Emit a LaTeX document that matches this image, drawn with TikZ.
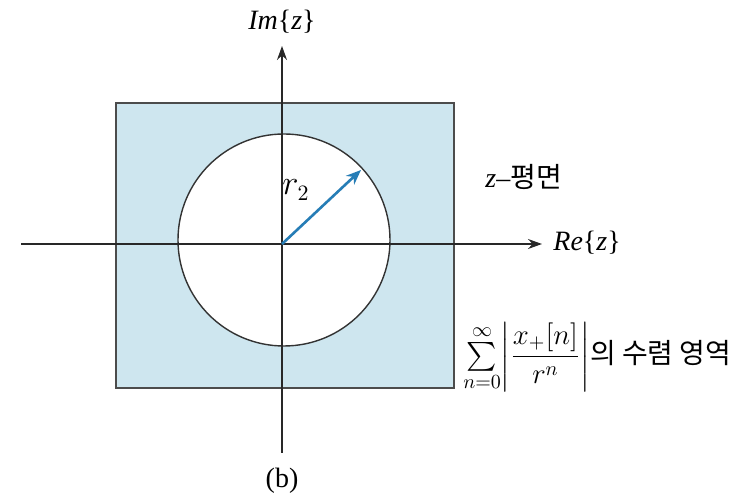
\documentclass[tikz,border=0pt]{standalone}
\usepackage{fontspec}
\usepackage{amsmath}
\setmainfont{Liberation Serif}
\newfontfamily\krfont{Noto Sans CJK KR}
\usetikzlibrary{arrows.meta}
\definecolor{planeblue}{RGB}{206,230,239}
\definecolor{radblue}{RGB}{38,125,182}
\definecolor{axisgray}{RGB}{40,40,40}
\begin{document}
\begin{tikzpicture}[x=0.5pt,y=-0.5pt,
  axis/.style={draw=axisgray,line width=0.65pt,-{Stealth[length=7pt,width=5pt]}},
  region/.style={draw=black!70,line width=1pt,fill=planeblue},
  disk/.style={draw=black!80,line width=0.7pt,fill=white},
  radius arrow/.style={draw=radblue,line width=1.3pt,-{Stealth[length=7.5pt,width=6pt]}},
  lbl/.style={inner sep=0pt,font=\fontsize{14}{17}\selectfont}]
\useasboundingbox (0,0) rectangle (751,501);
% region and disk
\node[region,minimum width=169pt,minimum height=142.5pt,inner sep=0pt,anchor=north west] (plane) at (115,102) {};
\node[disk,circle,minimum size=106pt,inner sep=0pt] (disk) at (284,240) {};
% axes
\coordinate (O) at (282,244);
\coordinate (xs) at (21,244);
\coordinate (xe) at (542,244);
\coordinate (ys) at (282,453);
\coordinate (ye) at (282,46);
\draw[axis] (xs) -- (xe);
\draw[axis] (ys) -- (ye);
% radius arrow
\coordinate (tip) at (361,170);
\draw[radius arrow] (O) -- (tip);
% labels
\node[lbl] (im) at (282,22) {\textit{Im}\{\textit{z}\}};
\node[lbl,anchor=west] (re) at (553,243) {\textit{Re}\{\textit{z}\}};
\node[lbl,font=\fontsize{16}{19}\selectfont] (r2) at (296,190) {$r_2$};
\node[lbl,anchor=west] (zp) at (485,177) {\textit{z}–{\krfont 평면}};
\node[lbl,anchor=west] (conv) at (463,357) {$\textstyle\sum\limits_{n=0}^{\infty}\biggl|\dfrac{x_+[n]}{r^{n}}\biggr|${\krfont 의 수렴 영역}};
\node[lbl] (b) at (282,481) {(b)};
\end{tikzpicture}
\end{document}
